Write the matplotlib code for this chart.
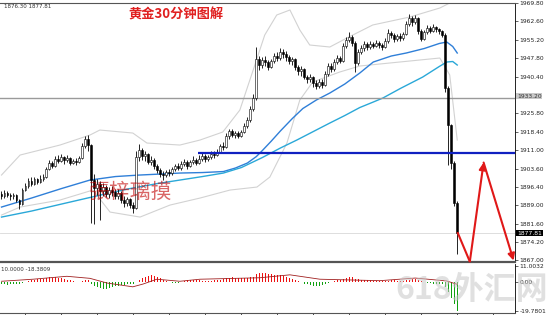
import numpy as np
import matplotlib
matplotlib.use('Agg')
import matplotlib.pyplot as plt
from matplotlib.patches import FancyArrowPatch

plt.rcParams['font.family'] = ['DejaVu Sans', 'Noto Sans CJK SC']
CJK = ['Noto Sans CJK SC', 'DejaVu Sans']

# ---- 价格数据 (30分钟K线) ----
first_open = 1893.5
closes = [1892.8, 1894.0, 1893.2, 1892.6, 1893.0, 1891.0, 1889.4, 1895.2, 1896.6, 1898.8,
          1897.6, 1899.4, 1898.2, 1899.6, 1900.4, 1903.6, 1905.8, 1904.6, 1907.4, 1906.8,
          1908.2, 1907.0, 1907.8, 1906.0, 1906.8, 1906.2, 1908.0, 1912.6, 1915.4, 1913.0,
          1899.0, 1896.0, 1897.6, 1894.8, 1896.2, 1893.6, 1895.0, 1894.2, 1892.8, 1894.0,
          1891.2, 1890.0, 1891.4, 1889.2, 1888.0, 1908.4, 1911.0, 1908.6, 1909.4, 1906.4,
          1907.2, 1904.8, 1903.2, 1901.6, 1901.0, 1902.4, 1901.8, 1903.6, 1904.8, 1903.8,
          1905.6, 1906.4, 1904.8, 1906.2, 1907.0, 1905.8, 1907.6, 1908.8, 1907.4, 1908.2,
          1909.6, 1909.0, 1910.4, 1912.8, 1912.2, 1916.8, 1918.6, 1917.2, 1918.0, 1916.8,
          1918.4, 1920.6, 1923.2, 1927.6, 1932.0, 1947.6, 1945.2, 1947.0, 1946.2, 1944.4,
          1946.8, 1948.6, 1947.8, 1950.2, 1949.4, 1948.2, 1946.6, 1947.4, 1944.2, 1942.6,
          1943.4, 1940.2, 1939.4, 1940.4, 1937.8, 1936.8, 1938.4, 1937.2, 1941.6, 1944.8,
          1943.6, 1946.4, 1947.8, 1946.8, 1952.6, 1955.0, 1956.4, 1953.8, 1946.0, 1950.4,
          1951.8, 1953.4, 1952.2, 1953.6, 1952.8, 1954.0, 1953.2, 1952.4, 1954.6, 1958.0,
          1957.2, 1955.4, 1956.8, 1956.0, 1957.6, 1961.4, 1963.6, 1962.0, 1963.8, 1958.6,
          1955.6, 1958.2, 1959.8, 1958.8, 1960.2, 1959.4, 1958.6, 1957.2, 1936.0, 1921.0,
          1906.0, 1890.0, 1877.81]
highs = [1894.6, 1895.0, 1894.8, 1894.0, 1893.8, 1893.4, 1891.6, 1896.0, 1898.0, 1899.8,
         1900.2, 1900.4, 1900.0, 1901.0, 1901.6, 1904.4, 1907.2, 1906.6, 1908.6, 1909.0,
         1909.4, 1908.8, 1909.2, 1908.4, 1907.6, 1907.8, 1908.8, 1914.0, 1916.6, 1917.0,
         1913.6, 1901.4, 1899.4, 1898.6, 1897.8, 1897.0, 1896.4, 1896.8, 1895.6, 1895.4,
         1894.6, 1892.6, 1892.2, 1892.0, 1890.4, 1910.6, 1913.6, 1912.0, 1910.8, 1910.0,
         1908.6, 1908.0, 1905.6, 1904.0, 1902.6, 1903.2, 1903.6, 1904.4, 1905.6, 1905.8,
         1906.6, 1907.4, 1907.0, 1907.2, 1908.6, 1907.8, 1909.2, 1909.8, 1909.4, 1909.0,
         1910.6, 1910.8, 1911.6, 1913.6, 1914.4, 1917.8, 1919.4, 1919.6, 1918.8, 1918.6,
         1919.2, 1922.0, 1924.4, 1928.8, 1933.4, 1952.2, 1948.8, 1948.2, 1948.6, 1947.0,
         1947.6, 1950.0, 1950.4, 1951.8, 1951.4, 1950.6, 1949.0, 1948.4, 1947.8, 1945.0,
         1944.6, 1943.8, 1941.2, 1941.6, 1940.8, 1939.0, 1939.4, 1939.6, 1942.6, 1946.0,
         1945.8, 1947.6, 1949.0, 1948.8, 1954.0, 1956.4, 1958.2, 1957.0, 1954.6, 1951.6,
         1953.0, 1954.6, 1954.2, 1954.8, 1954.4, 1955.2, 1954.8, 1954.0, 1955.8, 1959.4,
         1958.8, 1958.0, 1957.6, 1957.8, 1958.4, 1962.6, 1965.2, 1964.6, 1964.8, 1964.2,
         1959.6, 1959.2, 1961.0, 1960.8, 1961.2, 1960.6, 1960.0, 1959.2, 1957.8, 1936.6,
         1921.4, 1906.8, 1890.6]
lows = [1891.6, 1892.0, 1892.4, 1891.2, 1891.4, 1890.2, 1887.6, 1889.0, 1894.6, 1896.0,
        1896.8, 1897.0, 1897.4, 1897.8, 1898.6, 1899.8, 1903.0, 1903.8, 1904.2, 1905.8,
        1906.2, 1905.6, 1906.4, 1905.2, 1905.4, 1905.0, 1905.8, 1907.6, 1911.8, 1910.6,
        1882.0, 1881.6, 1893.2, 1883.0, 1892.6, 1892.4, 1892.0, 1892.8, 1891.4, 1891.6,
        1890.0, 1888.4, 1888.6, 1888.0, 1886.0, 1887.4, 1906.8, 1907.2, 1906.6, 1905.4,
        1905.0, 1903.6, 1901.8, 1900.2, 1899.2, 1900.4, 1900.6, 1901.2, 1902.8, 1903.0,
        1903.2, 1904.6, 1903.6, 1904.2, 1905.6, 1905.0, 1905.4, 1906.8, 1906.2, 1906.6,
        1907.6, 1908.0, 1908.6, 1909.8, 1911.0, 1911.8, 1915.4, 1916.2, 1916.0, 1915.8,
        1916.4, 1917.8, 1920.0, 1922.4, 1926.8, 1931.2, 1943.2, 1944.0, 1944.8, 1943.0,
        1943.8, 1946.0, 1946.6, 1947.2, 1948.0, 1946.8, 1945.6, 1945.2, 1943.0, 1941.2,
        1940.6, 1939.4, 1938.0, 1938.2, 1936.4, 1935.6, 1936.0, 1935.8, 1936.6, 1940.8,
        1942.4, 1942.8, 1945.6, 1945.8, 1946.4, 1951.8, 1954.2, 1952.6, 1942.4, 1945.2,
        1949.6, 1950.8, 1951.0, 1951.6, 1951.8, 1952.2, 1952.0, 1951.2, 1951.8, 1954.0,
        1955.8, 1954.2, 1954.6, 1954.8, 1955.2, 1957.0, 1960.6, 1960.8, 1961.4, 1957.4,
        1954.6, 1955.2, 1957.6, 1957.8, 1958.4, 1958.2, 1957.4, 1956.4, 1934.2, 1905.0,
        1903.6, 1888.8, 1869.4]

# ---- 均线 (读取的采样点) ----
ma_idx = [0, 10, 20, 29.5, 38, 46, 53, 59.5, 67, 74, 78, 82, 85, 87, 90, 93, 97,
          100.5, 105, 109.5, 114.5, 119.5, 124, 130, 135, 141, 146, 148.5, 150.5, 152]
ma_fast = [1888.2, 1891.8, 1895.6, 1899.0, 1900.4, 1901.0, 1901.4, 1901.8, 1902.0, 1902.4,
           1903.8, 1905.8, 1908.4, 1910.8, 1914.6, 1918.6, 1923.6, 1927.6, 1931.0, 1933.8,
           1937.4, 1941.8, 1946.2, 1948.6, 1949.8, 1951.6, 1953.6, 1954.2, 1952.4, 1949.8]
ma2_idx = [0, 10, 20, 33, 42, 52, 59.5, 67, 74, 80, 87, 93, 98.5, 104, 109.5, 114.5,
           119.5, 124, 127.2, 133, 140.5, 146, 148.5, 150.5, 152]
ma_slow = [1884.2, 1886.6, 1889.4, 1893.0, 1895.4, 1897.6, 1899.0, 1900.4, 1901.8, 1904.0,
           1908.0, 1911.8, 1915.0, 1918.4, 1921.8, 1924.8, 1928.0, 1930.2, 1931.8, 1935.6,
           1940.2, 1944.4, 1946.2, 1946.4, 1945.0]

# ---- 布林带 (读取的采样点) ----
bbu_idx = [0, 6.2, 19.5, 29.5, 32.8, 43.8, 48.5, 59.5, 66.2, 73.8, 79.5, 84.5, 87.8,
           91.8, 96.2, 99.5, 102.8, 109.5, 115.2, 123.8, 136.2, 146.2, 150.2, 152]
bb_up = [1901.0, 1909.0, 1913.0, 1917.0, 1919.0, 1917.8, 1913.8, 1913.0, 1915.0, 1918.2,
         1927.0, 1945.0, 1957.0, 1965.0, 1967.0, 1959.0, 1953.0, 1952.2, 1955.8, 1961.0,
         1964.2, 1967.8, 1970.2, 1983.0]
bbl_idx = [0, 6.2, 19.5, 30.5, 36.2, 46.2, 56.2, 66.2, 76.2, 85.2, 89.5, 95.2, 99.5,
           103.8, 112.8, 119.5, 132.8, 146.2, 149.5, 152]
bb_lo = [1885.0, 1888.2, 1891.0, 1895.0, 1886.2, 1884.2, 1889.0, 1891.8, 1895.0, 1896.2,
         1900.2, 1913.8, 1931.0, 1938.2, 1942.2, 1944.6, 1946.2, 1947.8, 1941.0, 1915.0]

# ---- MACD 柱 ----
macd_hist = [-1.2, -1.5, -1.8, -1.6, -1.4, -1.2, -1.5, -0.8,
             0.4, 0.9, 1.4, 1.8, 2.0, 2.2, 2.4, 2.8, 3.2, 3.0, 3.2, 3.0,
             2.6, 2.2, 1.8, 1.2, 0.8, 0.4, 0.3, 0.8, 1.4, 1.6,
             -1.0, -2.4, -3.4, -4.2, -4.6, -4.4, -3.8, -3.2,
             -2.8, -2.4, -2.0, -1.8, -1.6, -1.4, -1.2, -0.2,
             1.6, 2.8, 3.8, 4.4, 4.6, 4.2, 3.6, 2.8,
             1.8, 1.0, 0.2, -0.6, -0.9, -0.7,
             0.3, 0.8, 1.2, 1.4, 1.6, 1.4, 1.2,
             1.0, 0.8, 0.9, 1.0, 1.2, 1.4, 1.8, 2.0,
             2.6, 3.0, 3.2, 3.0, 2.8, 2.6, 2.6, 2.8, 3.2, 3.8,
             5.6, 6.2, 6.4, 6.2, 5.8, 5.4, 5.2, 4.8, 4.6, 4.2, 3.6, 3.0, 2.4,
             1.4, 0.6, -0.2, -1.0, -1.6, -2.0, -2.4, -2.6, -2.4, -2.0, -1.4,
             -0.6, 0.0, 0.6, 1.2, 1.6, 2.4, 3.0, 3.4, 3.2, 2.4,
             2.0, 1.8, 1.6, 1.4, 1.2, 1.0, 0.8, 0.6, 0.5, 0.6,
             1.0, 1.2, 1.2, 1.0, 0.9, 1.0, 1.4, 1.8, 2.0, 2.0, 1.4, 0.6, 0.2,
             -0.4, -0.8, -1.0, -1.0, -1.2, -1.4,
             -3.0, -6.5, -10.5, -15.0, -19.5]
sig_idx = [0, 10.5, 21.8, 29.5, 35.2, 43.8, 47.2, 51.8, 59.5, 66.2, 86.2, 96.2, 106.2,
           116.2, 126.2, 138, 148.5, 152]
sig_val = [0.6, 2.0, 4.0, 2.6, -0.6, -3.2, -1.3, 2.0, 0.6, 2.0, 3.0, 5.0, 2.0, 1.5, 1.0,
           2.8, 0.8, -1.5]

price_ticks = [1867.00, 1874.20, 1881.60, 1889.00, 1896.40, 1903.60, 1911.00, 1918.40,
               1925.80, 1940.40, 1947.80, 1955.20, 1962.60, 1969.80]
support = 1909.8
grey_level = 1931.8
last_price = 1877.81
arrow_x = [152.2, 156.2, 160.8, 170.8]
arrow_y = [1877.8, 1866.4, 1906.0, 1866.8]

opens = [first_open] + closes[:-1]
n = len(closes)
idx = np.arange(n)

fig = plt.figure(figsize=(5.5, 3.15), dpi=100)
ax = fig.add_axes([0, 0.168, 0.936, 0.8225])
ax2 = fig.add_axes([0, 0.0063, 0.936, 0.1556])

# 布林带和均线
ax.plot(bbu_idx, bb_up, color='#d2d2d2', lw=0.8)
ax.plot(bbl_idx, bb_lo, color='#d2d2d2', lw=0.8)
ax.plot(ma_idx, ma_fast, color='#2f7fd8', lw=1.0)
ax.plot(ma2_idx, ma_slow, color='#2aa8d8', lw=1.0)

# K线
ax.vlines(idx, lows, highs, color='black', lw=0.6, zorder=3)
for i in range(n):
    o, c = opens[i], closes[i]
    bull = c >= o
    ax.bar(i, max(abs(c - o), 0.25), bottom=min(o, c), width=0.65,
           color='white' if bull else 'black', edgecolor='black', lw=0.4, zorder=4)

# 水平线
ax.axhline(grey_level, color='#9a9a9a', lw=1.0, zorder=2)
ax.axhline(last_price, color='#d8d8d8', lw=0.6, zorder=1)
ax.hlines(support, 65.5, 171.2, color='#1020c0', lw=1.6, zorder=5)

# 红色箭头
ax.plot(arrow_x[:2], arrow_y[:2], color='#e01818', lw=1.5, zorder=6)
for k in (1, 2):
    ax.add_patch(FancyArrowPatch((arrow_x[k], arrow_y[k]), (arrow_x[k + 1], arrow_y[k + 1]),
                                 arrowstyle='-|>', mutation_scale=10, color='#e01818',
                                 lw=1.5, shrinkA=0, shrinkB=0, zorder=6, clip_on=False))

ax.set_xlim(-0.5, 171.2)
ax.set_ylim(1866.2, 1969.8)
ax.set_yticks(price_ticks)
ax.set_yticklabels([f'{v:.2f}' for v in price_ticks])
ax.yaxis.tick_right()
ax.tick_params(axis='y', labelsize=4.3, length=2, width=0.5, pad=1.5, colors='#222222')
ax.set_xticks([])
ax.spines['left'].set_visible(False)
ax.spines['top'].set_color('#555555')
ax.spines['top'].set_linewidth(0.8)
ax.spines['right'].set_linewidth(0.6)
ax.spines['bottom'].set_color('#555555')
ax.spines['bottom'].set_linewidth(1.6)

ytr = ax.get_yaxis_transform()
ax.text(1.004, last_price, f'{last_price:.2f}', transform=ytr, fontsize=4.3, color='white',
        va='center', ha='left', bbox=dict(boxstyle='square,pad=0.15', fc='black', ec='none'))
ax.text(1.004, 1932.6, '1933.20', transform=ytr, fontsize=4.3, color='#333333',
        va='center', ha='left', bbox=dict(boxstyle='square,pad=0.15', fc='#c8c8c8', ec='none'))

# 标题和水印
fig.text(4 / 550, 1 - 6 / 315, '1876.30 1877.81',
         fontsize=4, ha='left', va='center', color='#333333')
fig.text(176 / 550, 1 - 15 / 315, '黄金30分钟图解', family=CJK, fontsize=9.5,
         fontweight='bold', color='#e02020', ha='center', va='center')
ax.text(43, 1894.4, '張梓璃摸', family=CJK, fontsize=15, fontweight='light',
        color='#c00000', alpha=0.6, ha='center', va='center', zorder=7)

# MACD
hist = np.array(macd_hist)
ax2.bar(idx, hist, width=0.45, color=np.where(hist >= 0, '#ee1010', '#10a010'), lw=0)
ax2.plot(sig_idx, sig_val, color='#a02020', lw=0.6)
ax2.set_xlim(-0.5, 171.2)
ax2.set_ylim(-21.1, 12.4)
ax2.set_yticks([11.0032, 0, -19.7801])
ax2.set_yticklabels(['11.0032', '0.00', '-19.7801'])
ax2.yaxis.tick_right()
ax2.tick_params(axis='y', labelsize=4.3, length=2, width=0.5, pad=1.5, colors='#222222')
ax2.set_xticks([8, 20, 32, 44, 56, 68, 80, 92, 104, 116, 128, 140, 152, 164])
ax2.set_xticklabels([])
ax2.tick_params(axis='x', length=2, width=0.5, direction='out')
ax2.spines['left'].set_visible(False)
ax2.spines['top'].set_visible(False)
ax2.spines['right'].set_linewidth(0.6)
ax2.spines['bottom'].set_color('#555555')
ax2.text(0.002, 0.93, '10.0000 -18.3809', transform=ax2.transAxes, fontsize=4,
         va='top', ha='left', color='#333333')

fig.text(472 / 550, 1 - 290 / 315, '618外汇网', family=CJK, fontsize=23, fontweight='bold',
         color='#c8c8c8', alpha=0.55, ha='center', va='center')

fig.savefig('out.png', dpi=100)
